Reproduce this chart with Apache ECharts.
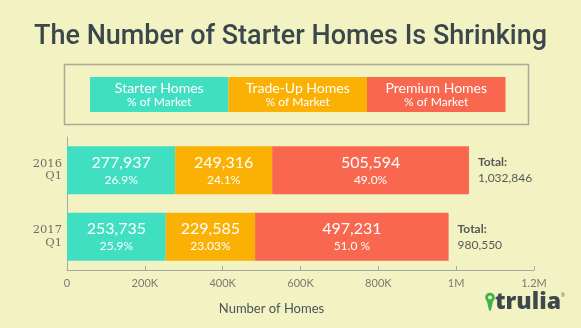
<!DOCTYPE html>
<html>
<head>
<meta charset="utf-8">
<script src="https://cdn.jsdelivr.net/npm/echarts@6/dist/echarts.min.js"></script>
<style>
  html, body { margin: 0; padding: 0; background: #f3f2c3; }
  #chart { width: 581px; height: 328px; }
</style>
</head>
<body>
<div id="chart"></div>
<script>
// Home counts by market tier, first quarter of each year
const periods = ['2016\nQ1', '2017\nQ1'];
const tierNames = ['Starter Homes', 'Trade-Up Homes', 'Premium Homes'];
const starter = [277937, 253735];
const tradeUp = [249316, 229585];
const premium = [505594, 497231];
const starterPct = ['26.9%', '25.9%'];
const tradeUpPct = ['24.1%', '23.03%'];
const premiumPct = ['49.0%', '51.0 %'];
const totals = [1032846, 980550];

const colors = ['#41dfc2', '#fab104', '#f8674e'];
const bg = '#f3f2c3';
const fmt = v => v.toLocaleString('en-US');

function tierSeries(name, values, pcts, color) {
  return {
    name, type: 'bar', stack: 'all', data: values, barWidth: 48,
    itemStyle: { color },
    label: {
      show: true, position: 'inside',
      formatter: p => `{v|${fmt(p.value)}}\n{p|${pcts[p.dataIndex]}}`,
      rich: {
        v: { color: '#fff', fontSize: 16, fontFamily: 'Lato', lineHeight: 19 },
        p: { color: '#fff', fontSize: 12, fontFamily: 'Lato', lineHeight: 15 }
      }
    }
  };
}

const chart = echarts.init(document.getElementById('chart'), null, { renderer: 'canvas' });

// Legend strip: three contiguous blocks inside a framed box
const legendX = 90, legendY = 77, legendW = 138.5, legendH = 35;
const legendGraphics = [{
  type: 'rect', shape: { x: 64.5, y: 64.5, width: 464, height: 60 },
  style: { fill: 'none', stroke: '#a9a994', lineWidth: 1.5 }
}];
tierNames.forEach((n, i) => {
  legendGraphics.push({
    type: 'rect', shape: { x: legendX + i * legendW, y: legendY, width: legendW, height: legendH },
    style: { fill: colors[i] }
  });
  legendGraphics.push({
    type: 'text', x: legendX + i * legendW + legendW / 2, y: legendY + 17.5,
    style: {
      text: `{a|${n}}\n{b|% of Market}`, align: 'center', verticalAlign: 'middle',
      rich: {
        a: { fill: '#fff', fontSize: 14, fontFamily: 'Lato', lineHeight: 15 },
        b: { fill: '#fff', fontSize: 12, fontFamily: 'Lato', lineHeight: 13 }
      }
    }
  });
});

// Brand mark in the lower right corner
const logo = [
  { type: 'circle', shape: { cx: 490, cy: 297.5, r: 3.4 },
    style: { fill: bg, stroke: '#3cb44c', lineWidth: 2.8 } },
  { type: 'polygon', shape: { points: [[486.6, 299.5], [493.4, 299.5], [491, 310.5], [489, 310.5]] },
    style: { fill: '#3cb44c' } },
  { type: 'text', x: 495, y: 302, style: {
      text: 'trulia', fill: '#3d484d', fontSize: 23, fontWeight: 800,
      fontFamily: 'Open Sans', verticalAlign: 'middle' } },
  { type: 'text', x: 561, y: 293, style: { text: '®', fill: '#3d484d', fontSize: 5 } }
];

chart.setOption({
  backgroundColor: bg,
  animation: false,
  title: {
    text: 'The Number of Starter Homes Is Shrinking',
    left: 'center', top: 19,
    textStyle: { color: '#3c474c', fontSize: 27, fontWeight: 500, fontFamily: 'Roboto' }
  },
  grid: { left: 67, right: 47, top: 137, bottom: 58 },
  xAxis: {
    type: 'value', min: 0, max: 1200000, interval: 200000,
    name: 'Number of Homes', nameLocation: 'middle', nameGap: 32,
    nameTextStyle: { color: '#4a5357', fontSize: 13, fontFamily: 'Lato', padding: [0, 58, 0, 0] },
    axisLine: { show: true, lineStyle: { color: '#aaa9a0' } },
    axisTick: { show: true, inside: true, length: 4, lineStyle: { color: '#aaa9a0' } },
    splitLine: { show: false },
    axisLabel: {
      color: '#7a7a72', fontSize: 11, fontFamily: 'Lato', margin: 8,
      formatter: v => v === 0 ? '0' : (v >= 1000000 ? (v / 1000000) + 'M' : (v / 1000) + 'K')
    }
  },
  yAxis: {
    type: 'category', data: periods, inverse: true,
    axisLine: { show: true, lineStyle: { color: '#aaa9a0' } },
    axisTick: { show: false },
    axisLabel: {
      color: '#6e6e68', fontSize: 11.5, fontFamily: 'DejaVu Serif', align: 'right',
      margin: 5, lineHeight: 12.5
    }
  },
  series: [
    tierSeries(tierNames[0], starter, starterPct, colors[0]),
    tierSeries(tierNames[1], tradeUp, tradeUpPct, colors[1]),
    tierSeries(tierNames[2], premium, premiumPct, colors[2]),
    {
      name: 'Total', type: 'bar', stack: 'all', barWidth: 48,
      data: totals.map(() => 0),
      itemStyle: { color: 'transparent' },
      label: {
        show: true, position: 'right', distance: 9,
        formatter: p => `{t|Total:}\n{n|${fmt(totals[p.dataIndex])}}`,
        rich: {
          t: { color: '#555a58', fontSize: 12, fontWeight: 'bold', fontFamily: 'Lato', lineHeight: 16 },
          n: { color: '#555a58', fontSize: 12, fontFamily: 'Lato', lineHeight: 16 }
        }
      }
    }
  ],
  graphic: legendGraphics.concat(logo)
});
</script>
</body>
</html>
